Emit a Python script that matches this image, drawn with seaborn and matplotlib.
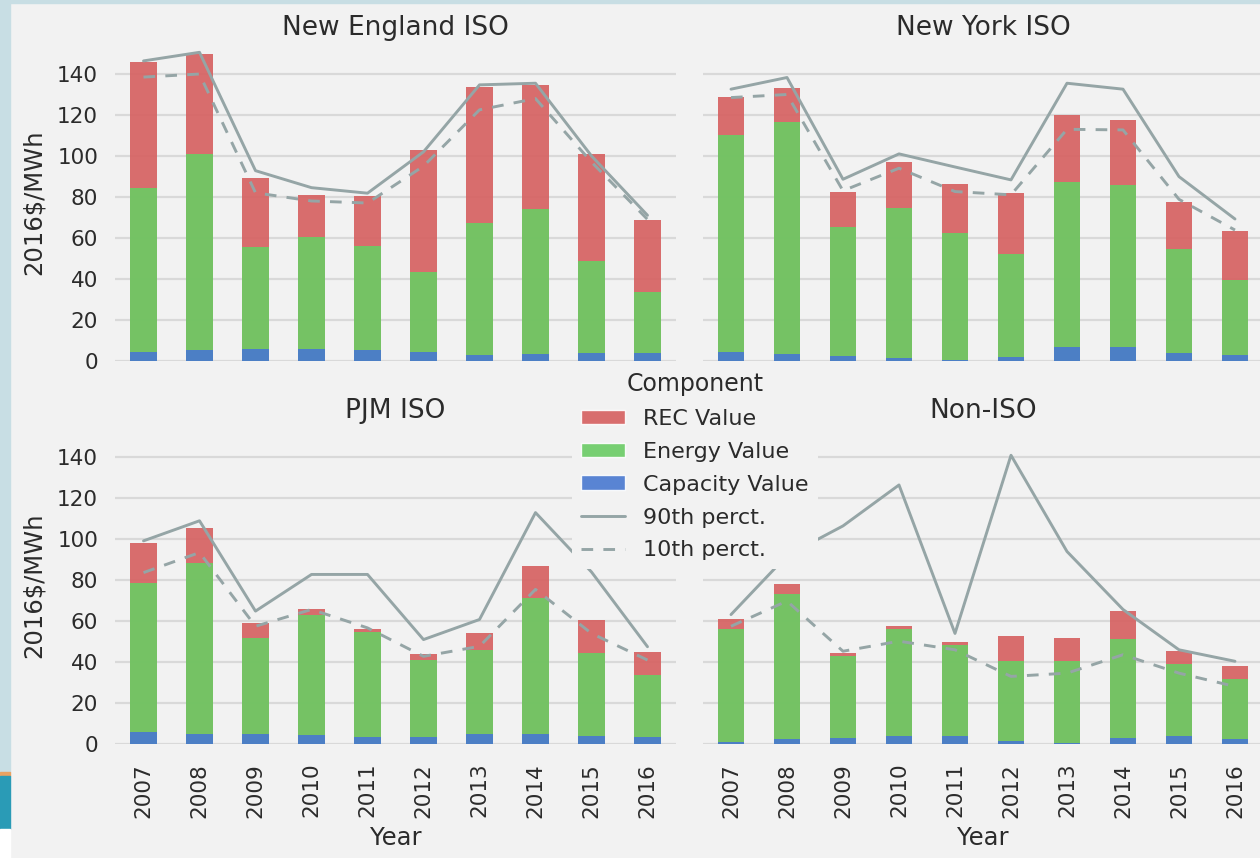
import numpy as np
import pandas as pd
import matplotlib
matplotlib.use("Agg")
import matplotlib.pyplot as plt
import seaborn as sns
from matplotlib.patches import Patch, Rectangle
from matplotlib.lines import Line2D

# ---------------- data (2016$/MWh) ----------------
years = ["2007", "2008", "2009", "2010", "2011", "2012", "2013", "2014", "2015", "2016"]
regions = ["New England ISO", "New York ISO", "PJM ISO", "Non-ISO"]

ne_capacity = [4.1, 5.2, 5.5, 5.5, 5.2, 4.2, 2.8, 3.3, 3.6, 3.6]
ne_energy = [80.1, 95.8, 49.9, 54.9, 50.7, 39.3, 64.5, 70.7, 45.3, 29.8]
ne_rec = [61.6, 48.8, 33.6, 20.6, 24.7, 59.5, 66.4, 60.4, 51.8, 35.5]
ne_p90 = [146.4, 150.6, 92.8, 84.5, 81.8, 102.0, 134.7, 135.5, 100.0, 71.0]
ne_p10 = [138.5, 140.0, 82.0, 78.0, 77.0, 95.0, 122.5, 128.0, 97.0, 69.0]

ny_capacity = [4.4, 3.3, 2.4, 1.5, 0.3, 1.6, 6.5, 6.5, 3.9, 2.8]
ny_energy = [106.0, 113.5, 63.1, 72.9, 61.9, 50.4, 80.6, 79.5, 50.7, 36.5]
ny_rec = [18.3, 16.2, 17.1, 22.5, 24.0, 30.0, 33.1, 31.6, 23.1, 24.2]
ny_p90 = [132.6, 138.3, 88.6, 101.0, 94.6, 88.3, 135.5, 132.6, 89.9, 69.2]
ny_p10 = [128.5, 130.0, 83.0, 94.0, 82.6, 81.0, 113.0, 112.7, 78.8, 63.8]

pjm_capacity = [6.0, 4.9, 4.7, 4.4, 3.3, 3.3, 4.9, 4.9, 3.9, 3.6]
pjm_energy = [72.8, 83.3, 46.9, 58.7, 51.6, 37.9, 40.9, 66.3, 40.5, 29.9]
pjm_rec = [19.2, 17.5, 7.6, 2.7, 1.3, 2.9, 8.3, 15.9, 16.1, 11.3]
pjm_p90 = [99.2, 109.0, 64.9, 82.8, 82.8, 51.0, 60.8, 113.0, 84.0, 47.5]
pjm_p10 = [83.7, 93.5, 57.5, 65.7, 56.7, 42.8, 47.7, 75.5, 54.0, 41.0]

non_capacity = [1.1, 2.3, 3.1, 4.1, 3.9, 1.6, 0.3, 2.8, 4.1, 2.5]
non_energy = [55.1, 71.1, 39.7, 52.1, 44.6, 38.8, 40.1, 48.5, 34.9, 29.2]
non_rec = [4.6, 4.5, 1.6, 1.3, 1.3, 12.2, 11.4, 13.6, 6.3, 6.2]
non_p90 = [63.2, 92.0, 106.5, 126.5, 54.0, 141.0, 94.0, 65.7, 46.0, 40.4]
non_p10 = [57.5, 69.8, 45.3, 50.2, 46.0, 33.0, 34.6, 43.6, 34.6, 28.1]

series = {
    "New England ISO": (ne_capacity, ne_energy, ne_rec, ne_p90, ne_p10),
    "New York ISO": (ny_capacity, ny_energy, ny_rec, ny_p90, ny_p10),
    "PJM ISO": (pjm_capacity, pjm_energy, pjm_rec, pjm_p90, pjm_p10),
    "Non-ISO": (non_capacity, non_energy, non_rec, non_p90, non_p10),
}

frames = []
for reg in regions:
    cap, en, rec, p90, p10 = series[reg]
    d = pd.DataFrame({"Region": reg, "Year": years, "Capacity": cap,
                      "Energy": en, "REC": rec, "P90": p90, "P10": p10})
    d["pos"] = np.arange(len(years))
    d["EnergyTop"] = d["Capacity"] + d["Energy"]
    d["Total"] = d["EnergyTop"] + d["REC"]
    frames.append(d)
df = pd.concat(frames, ignore_index=True)

# ---------------- style ----------------
BG = "#f2f2f2"
TXT = "#2b2b2b"
sns.set_theme(style="white")
plt.rcParams.update({
    "font.family": ["DejaVu Sans"],
    "text.color": TXT, "axes.labelcolor": TXT,
    "xtick.color": TXT, "ytick.color": TXT,
})

muted = sns.color_palette("muted")
c_cap, c_en, c_rec = muted[0], muted[2], muted[3]
line_col = "#95a5a6"
DASH = (0, (4, 3.5))

W, H = 1260, 858
fig = plt.figure(figsize=(W / 100, H / 100), dpi=100, facecolor=BG)

# slide-frame decorations (left strip / top border)
def frect(x0, y0, x1, y1, col):
    fig.patches.append(Rectangle((x0 / W, 1 - y1 / H), (x1 - x0) / W, (y1 - y0) / H,
                                 transform=fig.transFigure, color=col, zorder=-10))
frect(0, 0, W, 3, "#c8dee4")
frect(0, 0, 10, 772, "#c8dee4")
frect(0, 772, 10, 776, "#e9a262")
frect(0, 776, 10, 829, "#2a9bb6")
frect(0, 829, 10, H, "#ffffff")

ax_w, ax_h = 560 / W, 317.4 / H
lefts = [115.5 / W, 703 / W]
bottoms = [497.3 / H, 114 / H]

for i, reg in enumerate(regions):
    r, c = divmod(i, 2)
    ax = fig.add_axes([lefts[c], bottoms[r], ax_w, ax_h])
    ax.set_facecolor(BG)
    sub = df[df["Region"] == reg]
    kw = dict(x="Year", width=0.48, saturation=1, linewidth=0, ax=ax, alpha=0.9)
    sns.barplot(data=sub, y="Total", color=c_rec, **kw)
    sns.barplot(data=sub, y="EnergyTop", color=c_en, **kw)
    sns.barplot(data=sub, y="Capacity", color=c_cap, **kw)
    sns.lineplot(data=sub, x="pos", y="P90", color=line_col, lw=2.1, ax=ax,
                 legend=False, zorder=5)
    sns.lineplot(data=sub, x="pos", y="P10", color=line_col, lw=2.1, ax=ax,
                 legend=False, zorder=5, linestyle=DASH)
    ax.set_xlim(-0.5, 9.5)
    ax.set_ylim(0, 155)
    ax.set_yticks(np.arange(0, 141, 20))
    ax.yaxis.grid(True, color="#d9d9d9", lw=1.6)
    ax.xaxis.grid(False)
    ax.set_axisbelow(True)
    for s in ax.spines.values():
        s.set_visible(False)
    ax.tick_params(axis="both", length=0, labelsize=15.5)
    ax.tick_params(axis="y", pad=12.5)
    ax.tick_params(axis="x", pad=13.5, labelrotation=90)
    ax.set_title(reg, fontsize=19, pad=6, color=TXT)
    if c == 0:
        ax.set_ylabel("2016$/MWh", fontsize=17.5, labelpad=8)
    else:
        ax.set_ylabel("")
        ax.tick_params(axis="y", labelleft=False)
    if r == 0:
        ax.tick_params(axis="x", labelbottom=False)
        ax.set_xlabel("")
    else:
        ax.set_xlabel("Year", fontsize=17.5, labelpad=6)

handles = [
    Patch(facecolor=c_rec, alpha=0.9, label="REC Value"),
    Patch(facecolor=c_en, alpha=0.9, label="Energy Value"),
    Patch(facecolor=c_cap, alpha=0.9, label="Capacity Value"),
    Line2D([], [], color=line_col, lw=2.1, label="90th perct."),
    Line2D([], [], color=line_col, lw=2.1, linestyle=DASH, label="10th perct."),
]
leg = fig.legend(handles=handles, title="Component", loc="upper left",
                 bbox_to_anchor=(561 / W, 1 - 352 / H), frameon=True,
                 facecolor=BG, edgecolor="none", framealpha=1, fancybox=False,
                 borderpad=0.4, handlelength=2.0, handleheight=0.65,
                 handletextpad=0.8, labelspacing=0.58, fontsize=16,
                 title_fontsize=17)
leg.set_zorder(20)
for t in leg.get_texts():
    t.set_color(TXT)
leg.get_title().set_color(TXT)

fig.savefig("out.png", dpi=100, facecolor=BG)
